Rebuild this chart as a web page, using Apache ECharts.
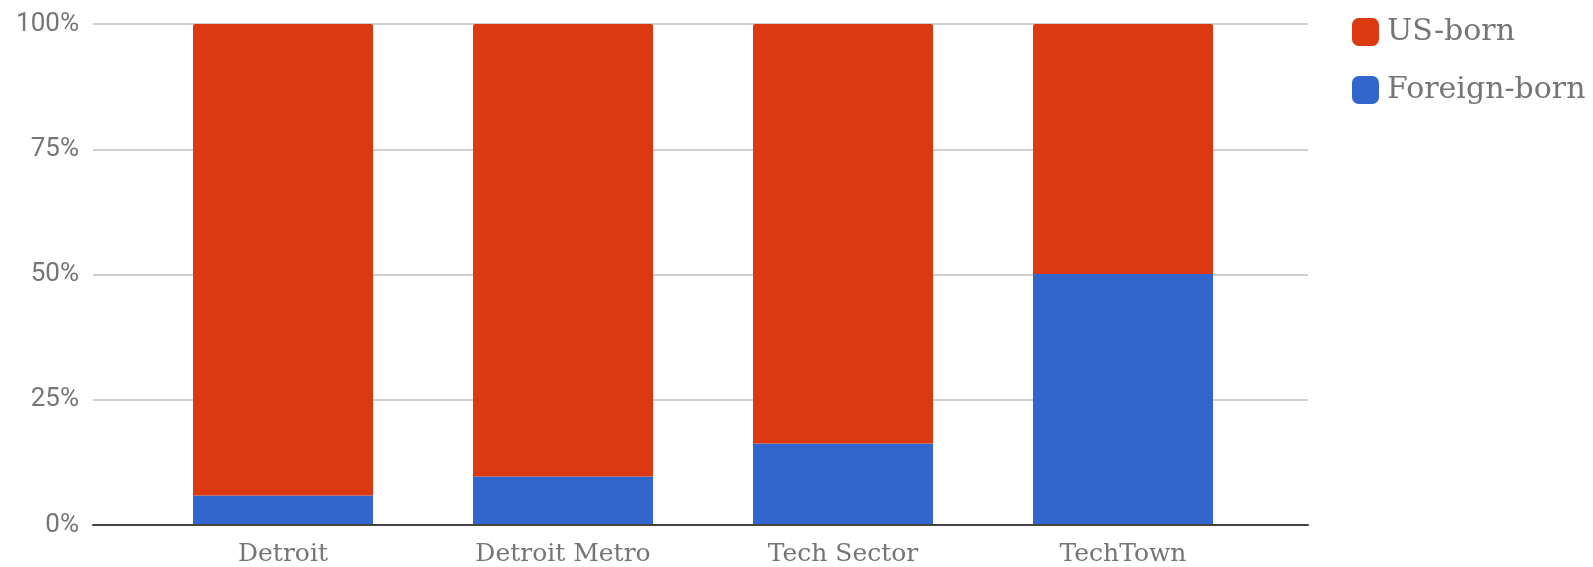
<!DOCTYPE html>
<html>
<head>
<meta charset="utf-8">
<script src="https://cdn.jsdelivr.net/npm/echarts@6/dist/echarts.min.js"></script>
<style>
  html, body { margin: 0; padding: 0; background: #fff; }
  #chart { width: 1593px; height: 567px; }
</style>
</head>
<body>
<div id="chart"></div>
<script>
// data (percent of workers)
const categories = ["Detroit", "Detroit Metro", "Tech Sector", "TechTown"];
const foreignBorn = [5.7, 9.5, 16.1, 50];
const usBorn = [94.3, 90.5, 83.9, 50];
const yTicks = [0, 25, 50, 75, 100];

const chart = echarts.init(document.getElementById("chart"));
const serif = "DejaVu Serif";
const grey = "#757575";

chart.setOption({
  animation: false,
  legend: {
    orient: "vertical",
    left: 1347,
    top: 12,
    itemWidth: 27,
    itemHeight: 28,
    itemGap: 28,
    icon: "roundRect",
    data: ["US-born", "Foreign-born"],
    textStyle: {
      fontFamily: serif,
      fontSize: 30,
      lineHeight: 28,
      color: grey,
      padding: [0, 0, 0, 3]
    }
  },
  grid: [
    { left: 93, right: 285, top: 24, bottom: 42 },
    { left: 143, right: 330, top: 24, bottom: 41 }
  ],
  xAxis: [{
    gridIndex: 0,
    type: "value",
    min: 0,
    max: 1,
    axisLine: { show: true, lineStyle: { color: "#444", width: 2 } },
    axisTick: { show: false },
    axisLabel: { show: false },
    splitLine: { show: false },
    z: 5
  }, {
    gridIndex: 1,
    type: "category",
    data: categories,
    axisLine: { show: false },
    axisTick: { show: false },
    axisLabel: {
      margin: 18,
      fontFamily: serif,
      fontSize: 25,
      color: grey
    }
  }],
  yAxis: [{
    gridIndex: 0,
    type: "value",
    min: 0,
    max: 100,
    interval: 25,
    axisLine: { show: false },
    axisTick: { show: false },
    axisLabel: {
      margin: 14,
      fontFamily: "Roboto",
      fontSize: 26,
      color: grey,
      formatter: (v) => (yTicks.includes(v) ? v + "%" : "")
    },
    splitLine: { lineStyle: { color: "#d0d0d0", width: 2 } }
  }, {
    gridIndex: 1,
    type: "value",
    min: 0,
    max: 100,
    show: false
  }],
  series: [{
    name: "Foreign-born",
    type: "bar",
    xAxisIndex: 1,
    yAxisIndex: 1,
    stack: "total",
    barWidth: 180,
    itemStyle: { color: "#3366cc" },
    data: foreignBorn
  }, {
    name: "US-born",
    type: "bar",
    xAxisIndex: 1,
    yAxisIndex: 1,
    stack: "total",
    barWidth: 180,
    itemStyle: { color: "#dc3912", borderRadius: [2, 2, 0, 0] },
    data: usBorn
  }]
});
</script>
</body>
</html>
